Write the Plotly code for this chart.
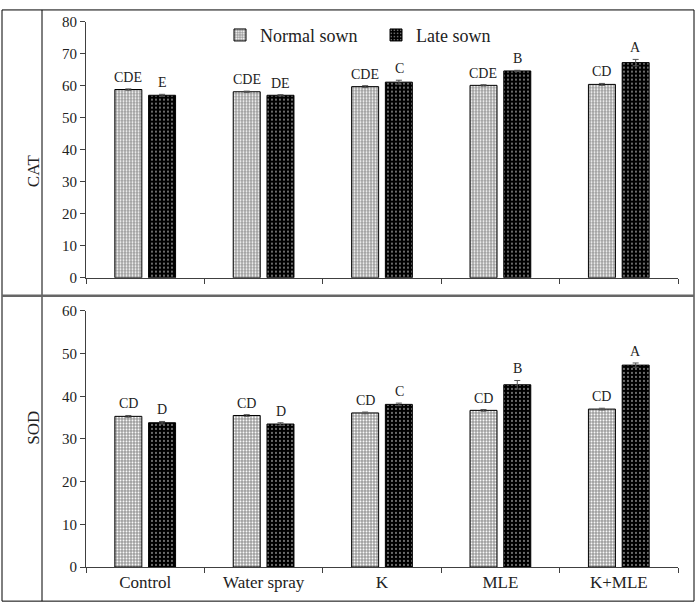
import plotly.graph_objects as go

categories = ["Control", "Water spray", "K", "MLE", "K+MLE"]
series_names = ["Normal sown", "Late sown"]

cat_normal = [58.8, 58.1, 59.7, 60.1, 60.4]
cat_late = [57.0, 57.0, 61.1, 64.6, 67.2]
cat_normal_err = [0.2, 0.2, 0.3, 0.2, 0.3]
cat_late_err = [0.3, 0.2, 0.6, 0.2, 1.0]
cat_normal_letters = ["CDE", "CDE", "CDE", "CDE", "CD"]
cat_late_letters = ["E", "DE", "C", "B", "A"]

sod_normal = [35.3, 35.5, 36.1, 36.7, 37.0]
sod_late = [33.8, 33.5, 38.1, 42.7, 47.3]
sod_normal_err = [0.2, 0.2, 0.2, 0.2, 0.2]
sod_late_err = [0.3, 0.3, 0.3, 1.0, 0.5]
sod_normal_letters = ["CD", "CD", "CD", "CD", "CD"]
sod_late_letters = ["D", "D", "C", "B", "A"]

W, H = 697, 614
FONT = "Liberation Serif, Times New Roman, serif"
TXT = "#222222"
AX = "#404040"

normal_pattern = dict(shape=".", bgcolor="#9c9c9c", fgcolor="white", size=3, solidity=0.35, fillmode="replace")
late_pattern = dict(shape=".", bgcolor="black", fgcolor="white", size=4, solidity=0.12, fillmode="replace")

fig = go.Figure()

def add_bars(vals, errs, name, pattern, xa, ya, show):
    fig.add_trace(go.Bar(
        x=categories, y=vals, name=name, showlegend=show, legendgroup=name,
        marker=dict(color=pattern["bgcolor"], pattern=pattern, line=dict(color="black", width=1)),
        error_y=dict(type="data", array=errs, color="#555555", thickness=1, width=3),
        xaxis=xa, yaxis=ya,
    ))

add_bars(cat_normal, cat_normal_err, series_names[0], normal_pattern, "x", "y", True)
add_bars(cat_late, cat_late_err, series_names[1], late_pattern, "x", "y", True)
add_bars(sod_normal, sod_normal_err, series_names[0], normal_pattern, "x2", "y2", False)
add_bars(sod_late, sod_late_err, series_names[1], late_pattern, "x2", "y2", False)

annotations = []
def add_letters(vals, errs, letters, shift, xref, yref):
    for c, v, e, t in zip(categories, vals, errs, letters):
        annotations.append(dict(
            x=c, y=v + e, xref=xref, yref=yref, text=t, showarrow=False,
            xshift=shift, yshift=2, yanchor="bottom",
            font=dict(family=FONT, size=14, color=TXT)))

add_letters(cat_normal, cat_normal_err, cat_normal_letters, -17, "x", "y")
add_letters(cat_late, cat_late_err, cat_late_letters, 17, "x", "y")
add_letters(sod_normal, sod_normal_err, sod_normal_letters, -17, "x2", "y2")
add_letters(sod_late, sod_late_err, sod_late_letters, 17, "x2", "y2")

annotations.append(dict(x=22 / W, y=1 - 148 / H, xref="paper", yref="paper", text="CAT",
                        textangle=-90, showarrow=False, font=dict(family=FONT, size=17, color=TXT)))
annotations.append(dict(x=22 / W, y=1 - 451 / H, xref="paper", yref="paper", text="SOD",
                        textangle=-90, showarrow=False, font=dict(family=FONT, size=17, color=TXT)))

def px_x(p):
    return p / W

def px_y(p):
    return 1 - p / H

shapes = [
    dict(type="rect", xref="paper", yref="paper", x0=px_x(2), x1=px_x(694), y0=px_y(2), y1=px_y(609),
         line=dict(color="black", width=1)),
    dict(type="line", xref="paper", yref="paper", x0=px_x(42), x1=px_x(42), y0=px_y(2), y1=px_y(609),
         line=dict(color="black", width=1)),
    dict(type="line", xref="paper", yref="paper", x0=px_x(2), x1=px_x(694), y0=px_y(295.5), y1=px_y(295.5),
         line=dict(color="#666666", width=2.5)),
]

xdom = [86 / W, 678 / W]
axis_common = dict(showline=True, linecolor=AX, linewidth=1, ticks="outside", tickcolor=AX,
                   ticklen=5, showgrid=False, zeroline=False)

fig.update_layout(
    width=W, height=H,
    margin=dict(l=0, r=0, t=0, b=0),
    paper_bgcolor="white", plot_bgcolor="white",
    barmode="group", bargap=0.43, bargroupgap=0.2,
    font=dict(family=FONT, color=TXT),
    showlegend=True,
    legend=dict(orientation="h", x=220 / W, y=1 - 9 / H, xanchor="left", yanchor="top",
                font=dict(family=FONT, size=18, color=TXT), entrywidth=111, entrywidthmode="pixels",
                bgcolor="rgba(0,0,0,0)", itemclick=False, itemwidth=30),
    xaxis=dict(domain=xdom, anchor="y", tickson="boundaries", showticklabels=False, **axis_common),
    yaxis=dict(domain=[1 - 277 / H, 1 - 14 / H], anchor="x", range=[0, 80], dtick=10,
               tickfont=dict(family=FONT, size=15, color=TXT), **axis_common),
    xaxis2=dict(domain=xdom, anchor="y2", tickson="boundaries",
                tickfont=dict(family=FONT, size=17, color=TXT), **axis_common),
    yaxis2=dict(domain=[1 - 574 / H, 1 - 311 / H], anchor="x2", range=[0, 60], dtick=10,
                tickfont=dict(family=FONT, size=15, color=TXT), **axis_common),
    annotations=annotations,
    shapes=shapes,
)

fig.write_html("out.html", config={"displayModeBar": False},
               post_script="document.body.style.margin='0';document.body.style.overflow='hidden';")
